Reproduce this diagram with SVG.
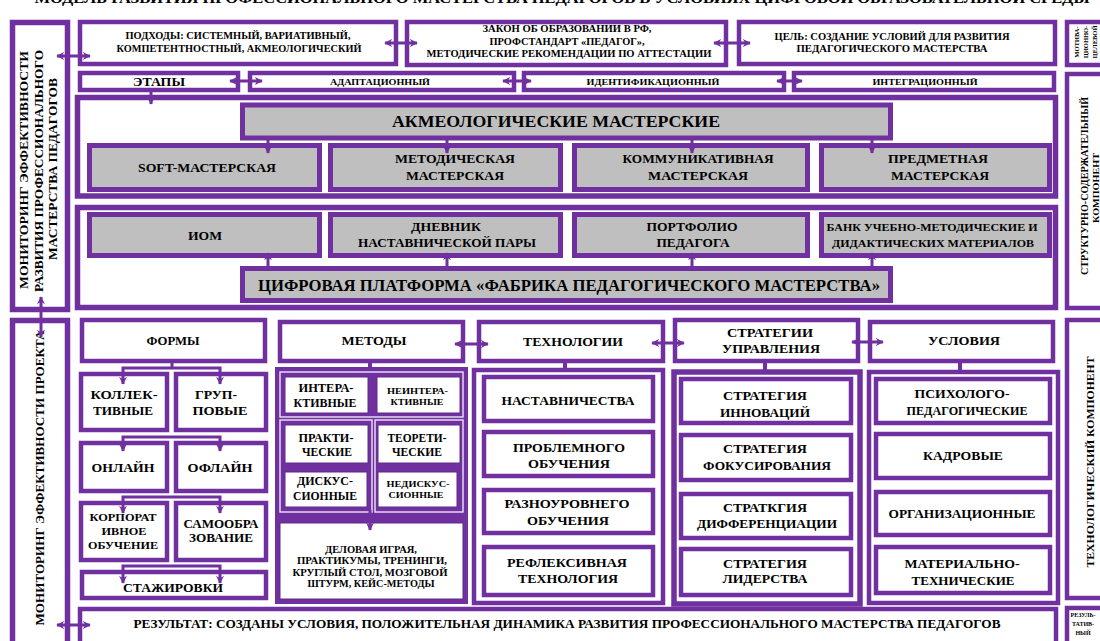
<svg xmlns="http://www.w3.org/2000/svg" width="1100" height="641" viewBox="0 0 1100 641">
<style>
.b{fill:#fff;stroke:#7030A0;stroke-width:4.5}
.bw{fill:#fff;stroke:#7030A0;stroke-width:5.5}
.g{fill:#BFBFBF;stroke:#7030A0;stroke-width:5}
.pf{fill:#7030A0;stroke:none}
.wl{fill:none;stroke:#EDE6F4;stroke-width:1.4}
.cell{fill:#fff;stroke:#5E2A8A;stroke-width:1}
.t{font-family:'Liberation Serif','DejaVu Serif','Times New Roman',serif;font-weight:700;fill:#000;text-anchor:middle}
.c{stroke:#7030A0;stroke-width:3;fill:none}
.s{stroke:#7030A0;stroke-width:4;fill:none}
</style>
<defs>
<marker id="ah" viewBox="0 0 10 10" refX="9" refY="5" markerWidth="8" markerHeight="8" markerUnits="userSpaceOnUse" orient="auto-start-reverse">
<path d="M0,0 L10,5 L0,10 L3,5 z" fill="#7030A0"/>
</marker>
</defs>
<rect width="1100" height="641" fill="#fff"/>

<text class="t" x="562" y="3" font-size="14" textLength="1055" lengthAdjust="spacingAndGlyphs">МОДЕЛЬ РАЗВИТИЯ ПРОФЕССИОНАЛЬНОГО МАСТЕРСТВА ПЕДАГОГОВ В УСЛОВИЯХ ЦИФРОВОЙ ОБРАЗОВАТЕЛЬНОЙ СРЕДЫ</text>

<g id="monitoring-razvitie">
<rect class="bw" x="12.5" y="22.5" width="55" height="287"/>
<text class="t" font-size="12" dominant-baseline="central" transform="translate(24,170) rotate(-90)" textLength="238" lengthAdjust="spacingAndGlyphs">МОНИТОРИНГ ЭФФЕКТИВНОСТИ</text>
<text class="t" font-size="12" dominant-baseline="central" transform="translate(39,171) rotate(-90)" textLength="242" lengthAdjust="spacingAndGlyphs">РАЗВИТИЯ ПРОФЕССИОНАЛЬНОГО</text>
<text class="t" font-size="12" dominant-baseline="central" transform="translate(53,169) rotate(-90)" textLength="182" lengthAdjust="spacingAndGlyphs">МАСТЕРСТВА ПЕДАГОГОВ</text>
</g>
<g id="monitoring-proekt">
<rect class="bw" x="12.5" y="320.5" width="55" height="335"/>
<text class="t" font-size="12.5" dominant-baseline="central" transform="translate(40,478) rotate(-90)" textLength="295" lengthAdjust="spacingAndGlyphs">МОНИТОРИНГ ЭФФЕКТИВНОСТИ ПРОЕКТА</text>
</g>

<g id="podhody">
<rect class="b" x="80" y="22" width="316" height="42"/>
<text class="t" x="238" y="39" font-size="9.5" textLength="225" lengthAdjust="spacingAndGlyphs">ПОДХОДЫ: СИСТЕМНЫЙ, ВАРИАТИВНЫЙ,</text>
<text class="t" x="239" y="52" font-size="9.5" textLength="245" lengthAdjust="spacingAndGlyphs">КОМПЕТЕНТНОСТНЫЙ, АКМЕОЛОГИЧЕСКИЙ</text>
</g>
<g id="zakon">
<rect class="b" x="407" y="22" width="319" height="43"/>
<text class="t" x="567" y="32" font-size="9.5" textLength="169" lengthAdjust="spacingAndGlyphs">ЗАКОН ОБ ОБРАЗОВАНИИ В РФ,</text>
<text class="t" x="567" y="45" font-size="9.5" textLength="155" lengthAdjust="spacingAndGlyphs">ПРОФСТАНДАРТ «ПЕДАГОГ»,</text>
<text class="t" x="569" y="57" font-size="9.5" textLength="285" lengthAdjust="spacingAndGlyphs">МЕТОДИЧЕСКИЕ РЕКОМЕНДАЦИИ ПО АТТЕСТАЦИИ</text>
</g>
<g id="cel">
<rect class="b" x="739" y="22" width="316" height="42"/>
<text class="t" x="892" y="39.5" font-size="9.5" textLength="235" lengthAdjust="spacingAndGlyphs">ЦЕЛЬ: СОЗДАНИЕ УСЛОВИЙ ДЛЯ РАЗВИТИЯ</text>
<text class="t" x="892" y="52" font-size="9.5" textLength="191" lengthAdjust="spacingAndGlyphs">ПЕДАГОГИЧЕСКОГО  МАСТЕРСТВА</text>
</g>
<g id="motiv">
<rect class="b" x="1067" y="22" width="50" height="43"/>
<text class="t" font-size="6.5" dominant-baseline="central" transform="translate(1076,42) rotate(-90)">МОТИВА-</text>
<text class="t" font-size="6.5" dominant-baseline="central" transform="translate(1085,42) rotate(-90)">ЦИОННО-</text>
<text class="t" font-size="6.5" dominant-baseline="central" transform="translate(1094,42) rotate(-90)">ЦЕЛЕВОЙ</text>
</g>

<g id="etapy">
<rect class="b" x="80" y="73" width="158" height="17"/>
<text class="t" x="159" y="85.5" font-size="13" textLength="52" lengthAdjust="spacingAndGlyphs">ЭТАПЫ</text>
</g>
<g id="adapt">
<rect class="b" x="250" y="73" width="264" height="17"/>
<text class="t" x="380" y="84.5" font-size="9" textLength="100" lengthAdjust="spacingAndGlyphs">АДАПТАЦИОННЫЙ</text>
</g>
<g id="ident">
<rect class="b" x="524" y="73" width="260" height="17"/>
<text class="t" x="653" y="84.5" font-size="9" textLength="133" lengthAdjust="spacingAndGlyphs">ИДЕНТИФИКАЦИОННЫЙ</text>
</g>
<g id="integr">
<rect class="b" x="794" y="73" width="260" height="17"/>
<text class="t" x="925" y="84.5" font-size="9" textLength="105" lengthAdjust="spacingAndGlyphs">ИНТЕГРАЦИОННЫЙ</text>
</g>

<g id="struct">
<rect class="b" x="1067" y="74" width="50" height="234"/>
<text class="t" font-size="9.5" dominant-baseline="central" transform="translate(1085,186) rotate(-90)" textLength="178" lengthAdjust="spacingAndGlyphs">СТРУКТУРНО-СОДЕРЖАТЕЛЬНЫЙ</text>
<text class="t" font-size="9" dominant-baseline="central" transform="translate(1096,188) rotate(-90)" textLength="70" lengthAdjust="spacingAndGlyphs">КОМПОНЕНТ</text>
</g>

<g id="blok-masterskie">
<rect class="bw" x="77.5" y="97.5" width="978" height="98.5"/>
</g>
<g id="akme">
<rect class="g" x="242.5" y="105" width="648" height="33"/>
<text class="t" x="556" y="126.5" font-size="17" textLength="328" lengthAdjust="spacingAndGlyphs">АКМЕОЛОГИЧЕСКИЕ  МАСТЕРСКИЕ</text>
</g>
<g id="soft">
<rect class="g" x="89.5" y="145.5" width="230" height="44"/>
<text class="t" x="207" y="172" font-size="12.5" textLength="138" lengthAdjust="spacingAndGlyphs">SOFT-МАСТЕРСКАЯ</text>
</g>
<g id="metod-m">
<rect class="g" x="330.5" y="145.5" width="230" height="44"/>
<text class="t" x="455" y="163" font-size="12.5" textLength="120" lengthAdjust="spacingAndGlyphs">МЕТОДИЧЕСКАЯ</text>
<text class="t" x="455" y="180" font-size="12.5" textLength="98" lengthAdjust="spacingAndGlyphs">МАСТЕРСКАЯ</text>
</g>
<g id="komm-m">
<rect class="g" x="574.5" y="145.5" width="233" height="44"/>
<text class="t" x="698" y="163" font-size="12.5" textLength="151" lengthAdjust="spacingAndGlyphs">КОММУНИКАТИВНАЯ</text>
<text class="t" x="698" y="180" font-size="12.5" textLength="100" lengthAdjust="spacingAndGlyphs">МАСТЕРСКАЯ</text>
</g>
<g id="predm-m">
<rect class="g" x="821.5" y="145.5" width="228" height="44"/>
<text class="t" x="938" y="163" font-size="12.5" textLength="100" lengthAdjust="spacingAndGlyphs">ПРЕДМЕТНАЯ</text>
<text class="t" x="940" y="180" font-size="12.5" textLength="98" lengthAdjust="spacingAndGlyphs">МАСТЕРСКАЯ</text>
</g>

<g id="blok-cifra">
<rect class="bw" x="77.5" y="207.5" width="978" height="100"/>
</g>
<g id="iom">
<rect class="g" x="89.5" y="214.5" width="230" height="41"/>
<text class="t" x="205" y="240" font-size="12.5" textLength="34" lengthAdjust="spacingAndGlyphs">ИОМ</text>
</g>
<g id="dnevnik">
<rect class="g" x="330.5" y="214.5" width="230" height="41"/>
<text class="t" x="446" y="231" font-size="12.5" textLength="70" lengthAdjust="spacingAndGlyphs">ДНЕВНИК</text>
<text class="t" x="447" y="247" font-size="12.5" textLength="178" lengthAdjust="spacingAndGlyphs">НАСТАВНИЧЕСКОЙ ПАРЫ</text>
</g>
<g id="portfolio">
<rect class="g" x="574.5" y="214.5" width="233" height="41"/>
<text class="t" x="692" y="231" font-size="12.5" textLength="91" lengthAdjust="spacingAndGlyphs">ПОРТФОЛИО</text>
<text class="t" x="693" y="247" font-size="12.5" textLength="73" lengthAdjust="spacingAndGlyphs">ПЕДАГОГА</text>
</g>
<g id="bank">
<rect class="g" x="821.5" y="214.5" width="228" height="41"/>
<text class="t" x="932" y="231" font-size="11" textLength="211" lengthAdjust="spacingAndGlyphs">БАНК УЧЕБНО-МЕТОДИЧЕСКИЕ И</text>
<text class="t" x="933" y="247" font-size="11" textLength="202" lengthAdjust="spacingAndGlyphs">ДИДАКТИЧЕСКИХ МАТЕРИАЛОВ</text>
</g>
<g id="platforma">
<rect class="g" x="242.5" y="268.5" width="648" height="32"/>
<text class="t" x="569" y="291" font-size="16" textLength="622" lengthAdjust="spacingAndGlyphs">ЦИФРОВАЯ ПЛАТФОРМА «ФАБРИКА ПЕДАГОГИЧЕСКОГО МАСТЕРСТВА»</text>
</g>

<g id="tehn-komp">
<rect class="b" x="1067" y="320" width="50" height="278"/>
<text class="t" font-size="10.5" dominant-baseline="central" transform="translate(1090,462) rotate(-90)" textLength="211" lengthAdjust="spacingAndGlyphs">ТЕХНОЛОГИЧЕСКИЙ КОМПОНЕНТ</text>
</g>
<g id="rez-komp">
<rect class="b" x="1067" y="608" width="50" height="45"/>
<text class="t" x="1083" y="617" font-size="6">РЕЗУЛЬ-</text>
<text class="t" x="1083" y="626" font-size="6">ТАТИВ-</text>
<text class="t" x="1083" y="635" font-size="6">НЫЙ</text>
</g>

<g id="formy">
<rect class="b" x="82" y="320" width="183" height="41"/>
<text class="t" x="173" y="345" font-size="12.5" textLength="53" lengthAdjust="spacingAndGlyphs">ФОРМЫ</text>
</g>
<g id="kollekt">
<rect class="b" x="81" y="374" width="86" height="56"/>
<text class="t" x="124" y="399" font-size="12.5" textLength="67" lengthAdjust="spacingAndGlyphs">КОЛЛЕК-</text>
<text class="t" x="123" y="415" font-size="12.5" textLength="60" lengthAdjust="spacingAndGlyphs">ТИВНЫЕ</text>
</g>
<g id="grupp">
<rect class="b" x="176" y="374" width="90" height="56"/>
<text class="t" x="216" y="399" font-size="12.5" textLength="42" lengthAdjust="spacingAndGlyphs">ГРУП-</text>
<text class="t" x="220" y="415" font-size="12.5" textLength="55" lengthAdjust="spacingAndGlyphs">ПОВЫЕ</text>
</g>
<g id="onlain">
<rect class="b" x="81" y="443" width="86" height="48"/>
<text class="t" x="123" y="472" font-size="12.5" textLength="63" lengthAdjust="spacingAndGlyphs">ОНЛАЙН</text>
</g>
<g id="oflain">
<rect class="b" x="176" y="443" width="90" height="48"/>
<text class="t" x="220" y="472" font-size="12.5" textLength="65" lengthAdjust="spacingAndGlyphs">ОФЛАЙН</text>
</g>
<g id="korp">
<rect class="b" x="81" y="503" width="86" height="57"/>
<text class="t" x="123" y="520.5" font-size="11" textLength="67" lengthAdjust="spacingAndGlyphs">КОРПОРАТ</text>
<text class="t" x="124" y="534.5" font-size="11" textLength="45" lengthAdjust="spacingAndGlyphs">ИВНОЕ</text>
<text class="t" x="123" y="549" font-size="11" textLength="70" lengthAdjust="spacingAndGlyphs">ОБУЧЕНИЕ</text>
</g>
<g id="samoobr">
<rect class="b" x="176" y="503" width="90" height="57"/>
<text class="t" x="221" y="528" font-size="11.5" textLength="75" lengthAdjust="spacingAndGlyphs">САМООБРА</text>
<text class="t" x="221" y="542" font-size="11.5" textLength="64" lengthAdjust="spacingAndGlyphs">ЗОВАНИЕ</text>
</g>
<g id="stazh">
<rect class="b" x="82" y="572" width="184" height="26"/>
<text class="t" x="173" y="592" font-size="12.5" textLength="100" lengthAdjust="spacingAndGlyphs">СТАЖИРОВКИ</text>
</g>

<g id="metody">
<rect class="b" x="280" y="322" width="183" height="39"/>
<text class="t" x="374" y="345" font-size="12.5" textLength="65" lengthAdjust="spacingAndGlyphs">МЕТОДЫ</text>
</g>
<g id="metody-frame">
<rect class="pf" x="275" y="367" width="193" height="237"/>
<rect class="wl" x="280" y="372" width="183" height="45"/>
<rect class="wl" x="280" y="420" width="92" height="92"/>
<rect class="wl" x="375" y="420" width="88" height="92"/>
</g>
<g id="interakt">
<rect class="cell" x="285" y="377" width="83" height="36"/>
<text class="t" x="326" y="392" font-size="11.5" textLength="55" lengthAdjust="spacingAndGlyphs">ИНТЕРА-</text>
<text class="t" x="325" y="407" font-size="11.5" textLength="63" lengthAdjust="spacingAndGlyphs">КТИВНЫЕ</text>
</g>
<g id="neinterakt">
<rect class="cell" x="377" y="377" width="83" height="36"/>
<text class="t" x="417.5" y="394" font-size="9" textLength="61" lengthAdjust="spacingAndGlyphs">НЕИНТЕРА-</text>
<text class="t" x="417" y="405" font-size="9" textLength="53" lengthAdjust="spacingAndGlyphs">КТИВНЫЕ</text>
</g>
<g id="prakt">
<rect class="cell" x="285" y="425" width="83" height="38"/>
<text class="t" x="326" y="442" font-size="11.5" textLength="55" lengthAdjust="spacingAndGlyphs">ПРАКТИ-</text>
<text class="t" x="327" y="456" font-size="11.5" textLength="50" lengthAdjust="spacingAndGlyphs">ЧЕСКИЕ</text>
</g>
<g id="teor">
<rect class="cell" x="378" y="425" width="82" height="38"/>
<text class="t" x="417" y="442" font-size="11.5" textLength="59" lengthAdjust="spacingAndGlyphs">ТЕОРЕТИ-</text>
<text class="t" x="417" y="456" font-size="11.5" textLength="50" lengthAdjust="spacingAndGlyphs">ЧЕСКИЕ</text>
</g>
<g id="diskus">
<rect class="cell" x="285" y="472" width="82" height="35"/>
<text class="t" x="325" y="485" font-size="11.5" textLength="56" lengthAdjust="spacingAndGlyphs">ДИСКУС-</text>
<text class="t" x="325" y="500" font-size="11.5" textLength="64" lengthAdjust="spacingAndGlyphs">СИОННЫЕ</text>
</g>
<g id="nediskus">
<rect class="cell" x="378" y="472" width="79" height="35"/>
<text class="t" x="418" y="487" font-size="9" textLength="63" lengthAdjust="spacingAndGlyphs">НЕДИСКУС-</text>
<text class="t" x="416" y="498" font-size="9" textLength="55" lengthAdjust="spacingAndGlyphs">СИОННЫЕ</text>
</g>
<g id="delovaya">
<rect class="cell" x="280" y="523" width="183" height="76"/>
<text class="t" x="371" y="553" font-size="9.5" textLength="92" lengthAdjust="spacingAndGlyphs">ДЕЛОВАЯ ИГРАЯ,</text>
<text class="t" x="372" y="564" font-size="9.5" textLength="150" lengthAdjust="spacingAndGlyphs">ПРАКТИКУМЫ, ТРЕНИНГИ,</text>
<text class="t" x="370" y="575.5" font-size="9.5" textLength="155" lengthAdjust="spacingAndGlyphs">КРУГЛЫЙ СТОЛ, МОЗГОВОЙ</text>
<text class="t" x="371" y="587" font-size="9.5" textLength="127" lengthAdjust="spacingAndGlyphs">ШТУРМ, КЕЙС-МЕТОДЫ</text>
</g>

<g id="tehnologii">
<rect class="b" x="479" y="322" width="184" height="39"/>
<text class="t" x="573" y="346" font-size="12.5" textLength="100" lengthAdjust="spacingAndGlyphs">ТЕХНОЛОГИИ</text>
</g>
<g id="tehnologii-frame">
<rect class="b" x="474" y="370" width="189" height="233"/>
</g>
<g id="nastav">
<rect class="b" x="484" y="377" width="169" height="44"/>
<text class="t" x="568" y="405" font-size="12.5" textLength="133" lengthAdjust="spacingAndGlyphs">НАСТАВНИЧЕСТВА</text>
</g>
<g id="problem">
<rect class="b" x="484" y="432" width="169" height="44"/>
<text class="t" x="569" y="452" font-size="12.5" textLength="112" lengthAdjust="spacingAndGlyphs">ПРОБЛЕМНОГО</text>
<text class="t" x="569" y="468" font-size="12.5" textLength="82" lengthAdjust="spacingAndGlyphs">ОБУЧЕНИЯ</text>
</g>
<g id="raznour">
<rect class="b" x="484" y="490" width="169" height="43"/>
<text class="t" x="567" y="508" font-size="12.5" textLength="125" lengthAdjust="spacingAndGlyphs">РАЗНОУРОВНЕГО</text>
<text class="t" x="568" y="525" font-size="12.5" textLength="82" lengthAdjust="spacingAndGlyphs">ОБУЧЕНИЯ</text>
</g>
<g id="refleks">
<rect class="b" x="484" y="547" width="169" height="48"/>
<text class="t" x="567" y="567" font-size="12.5" textLength="120" lengthAdjust="spacingAndGlyphs">РЕФЛЕКСИВНАЯ</text>
<text class="t" x="568" y="583" font-size="12.5" textLength="100" lengthAdjust="spacingAndGlyphs">ТЕХНОЛОГИЯ</text>
</g>

<g id="strategii">
<rect class="b" x="675" y="320" width="183" height="41"/>
<text class="t" x="770" y="337" font-size="12.5" textLength="86" lengthAdjust="spacingAndGlyphs">СТРАТЕГИИ</text>
<text class="t" x="771" y="353" font-size="12.5" textLength="98" lengthAdjust="spacingAndGlyphs">УПРАВЛЕНИЯ</text>
</g>
<g id="strategii-frame">
<rect class="bw" x="674" y="372" width="186" height="232"/>
</g>
<g id="innov">
<rect class="b" x="681" y="379" width="170" height="44"/>
<text class="t" x="765" y="400" font-size="12.5" textLength="84" lengthAdjust="spacingAndGlyphs">СТРАТЕГИЯ</text>
<text class="t" x="765" y="417" font-size="12.5" textLength="90" lengthAdjust="spacingAndGlyphs">ИННОВАЦИЙ</text>
</g>
<g id="fokus">
<rect class="b" x="681" y="435" width="170" height="45"/>
<text class="t" x="765" y="453" font-size="12.5" textLength="84" lengthAdjust="spacingAndGlyphs">СТРАТЕГИЯ</text>
<text class="t" x="767" y="470" font-size="12.5" textLength="128" lengthAdjust="spacingAndGlyphs">ФОКУСИРОВАНИЯ</text>
</g>
<g id="differ">
<rect class="b" x="681" y="494" width="170" height="44"/>
<text class="t" x="765" y="512" font-size="12.5" textLength="84" lengthAdjust="spacingAndGlyphs">СТРАТКГИЯ</text>
<text class="t" x="767" y="528" font-size="12.5" textLength="140" lengthAdjust="spacingAndGlyphs">ДИФФЕРЕНЦИАЦИИ</text>
</g>
<g id="lider">
<rect class="b" x="681" y="549" width="170" height="46"/>
<text class="t" x="765" y="568" font-size="12.5" textLength="84" lengthAdjust="spacingAndGlyphs">СТРАТЕГИЯ</text>
<text class="t" x="765" y="583" font-size="12.5" textLength="85" lengthAdjust="spacingAndGlyphs">ЛИДЕРСТВА</text>
</g>

<g id="usloviya">
<rect class="b" x="870" y="322" width="183" height="39"/>
<text class="t" x="964" y="345" font-size="12.5" textLength="72" lengthAdjust="spacingAndGlyphs">УСЛОВИЯ</text>
</g>
<g id="usloviya-frame">
<rect class="b" x="869" y="372" width="189" height="231"/>
</g>
<g id="psiho">
<rect class="b" x="876" y="379" width="174" height="44"/>
<text class="t" x="962" y="398" font-size="12.5" textLength="95" lengthAdjust="spacingAndGlyphs">ПСИХОЛОГО-</text>
<text class="t" x="967" y="415" font-size="12.5" textLength="121" lengthAdjust="spacingAndGlyphs">ПЕДАГОГИЧЕСКИЕ</text>
</g>
<g id="kadr">
<rect class="b" x="876" y="434" width="174" height="44"/>
<text class="t" x="963" y="460" font-size="12.5" textLength="80" lengthAdjust="spacingAndGlyphs">КАДРОВЫЕ</text>
</g>
<g id="organiz">
<rect class="b" x="876" y="492" width="174" height="43"/>
<text class="t" x="962" y="518" font-size="12.5" textLength="147" lengthAdjust="spacingAndGlyphs">ОРГАНИЗАЦИОННЫЕ</text>
</g>
<g id="mater">
<rect class="b" x="876" y="547" width="174" height="46"/>
<text class="t" x="962" y="568" font-size="12.5" textLength="115" lengthAdjust="spacingAndGlyphs">МАТЕРИАЛЬНО-</text>
<text class="t" x="963" y="585" font-size="12.5" textLength="103" lengthAdjust="spacingAndGlyphs">ТЕХНИЧЕСКИЕ</text>
</g>

<g id="rezultat">
<rect class="b" x="80" y="609" width="976" height="45"/>
<text class="t" x="567" y="628" font-size="12.5" textLength="867" lengthAdjust="spacingAndGlyphs">РЕЗУЛЬТАТ: СОЗДАНЫ УСЛОВИЯ, ПОЛОЖИТЕЛЬНАЯ ДИНАМИКА РАЗВИТИЯ ПРОФЕССИОНАЛЬНОГО МАСТЕРСТВА ПЕДАГОГОВ</text>
</g>

<g id="connectors">
<line class="c" x1="57" y1="56" x2="90" y2="56" marker-start="url(#ah)" marker-end="url(#ah)"/>
<line class="c" x1="385" y1="43" x2="417" y2="43" marker-start="url(#ah)" marker-end="url(#ah)"/>
<line class="c" x1="714" y1="43" x2="750" y2="43" marker-start="url(#ah)" marker-end="url(#ah)"/>
<line class="c" x1="230" y1="81" x2="262" y2="81" marker-start="url(#ah)" marker-end="url(#ah)"/>
<line class="c" x1="503" y1="81" x2="531" y2="81" marker-start="url(#ah)" marker-end="url(#ah)"/>
<line class="c" x1="777" y1="81" x2="802" y2="81" marker-start="url(#ah)" marker-end="url(#ah)"/>
<line class="c" x1="151" y1="90" x2="151" y2="104" marker-end="url(#ah)"/>
<line class="c" x1="268" y1="139" x2="268" y2="153" marker-end="url(#ah)"/>
<line class="c" x1="447" y1="139" x2="447" y2="153" marker-end="url(#ah)"/>
<line class="c" x1="692" y1="139" x2="692" y2="153" marker-end="url(#ah)"/>
<line class="c" x1="872" y1="139" x2="872" y2="153" marker-end="url(#ah)"/>
<line class="c" x1="268" y1="267" x2="268" y2="253" marker-end="url(#ah)"/>
<line class="c" x1="447" y1="267" x2="447" y2="253" marker-end="url(#ah)"/>
<line class="c" x1="692" y1="267" x2="692" y2="253" marker-end="url(#ah)"/>
<line class="c" x1="872" y1="267" x2="872" y2="253" marker-end="url(#ah)"/>
<line class="c" x1="41" y1="297" x2="41" y2="337" marker-start="url(#ah)" marker-end="url(#ah)"/>
<line class="c" x1="57" y1="625" x2="90" y2="625" marker-start="url(#ah)" marker-end="url(#ah)"/>
<line class="c" x1="172" y1="361" x2="172" y2="368"/>
<path class="c" d="M123,384 V368 H220 V384" marker-start="url(#ah)" marker-end="url(#ah)"/>
<path class="c" d="M123,451 V437 H220 V451" marker-start="url(#ah)" marker-end="url(#ah)"/>
<path class="c" d="M123,513 V497 H220 V513" marker-start="url(#ah)" marker-end="url(#ah)"/>
<path class="c" d="M123,583 V566 H220 V583" marker-start="url(#ah)" marker-end="url(#ah)"/>
<line class="c" x1="455" y1="344" x2="488" y2="344" marker-start="url(#ah)" marker-end="url(#ah)"/>
<line class="c" x1="652" y1="343" x2="684" y2="343" marker-start="url(#ah)" marker-end="url(#ah)"/>
<line class="c" x1="852" y1="342" x2="883" y2="342" marker-start="url(#ah)" marker-end="url(#ah)"/>
<line class="s" x1="370" y1="362" x2="370" y2="369"/>
<line class="s" x1="565" y1="362" x2="565" y2="371"/>
<line class="s" x1="765" y1="362" x2="765" y2="373"/>
<line class="s" x1="960" y1="362" x2="960" y2="373"/>
<line class="c" x1="370" y1="510" x2="370" y2="530" marker-end="url(#ah)"/>
</g>
</svg>
